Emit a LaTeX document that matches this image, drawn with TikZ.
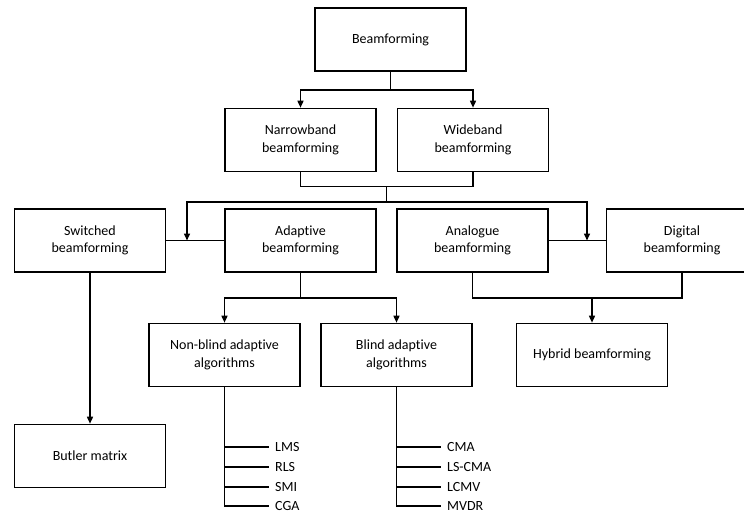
\documentclass[tikz,border=0pt]{standalone}
\usepackage{fontspec}
\setmainfont{Carlito}[Ligatures={NoCommon}]
\usetikzlibrary{arrows.meta}
\begin{document}
\begin{tikzpicture}[x=1pt,y=-1pt,
  box/.style={draw,line width=1.6pt,minimum width=151pt,minimum height=63pt,align=center,inner sep=2pt,font=\fontsize{14}{17.5}\selectfont},
  lnk/.style={line width=1.5pt},
  arr/.style={line width=1.5pt,-{Triangle[width=6pt,length=7pt]}},
  item/.style={anchor=west,inner xsep=6pt,inner ysep=0pt,font=\fontsize{14}{17}\selectfont}]
\useasboundingbox (0,0) rectangle (744,512);
\clip (0,0) rectangle (744,512);
\node[box] (bf) at (390.5,39.5) {Beamforming};
\node[box] (nb) at (300.5,140) {Narrowband\\beamforming};
\node[box] (wb) at (473,140) {Wideband\\beamforming};
\node[box] (sw) at (90,240.5) {Switched\\beamforming};
\node[box] (ad) at (300.5,240.5) {Adaptive\\beamforming};
\node[box] (an) at (472.5,240.5) {Analogue\\beamforming};
\node[box] (dg) at (682,240.5) {Digital\\beamforming};
\node[box] (nbl) at (224.5,355) {Non-blind adaptive\\algorithms};
\node[box] (bl) at (396.5,355) {Blind adaptive\\algorithms};
\node[box] (hy) at (592,355) {Hybrid beamforming};
\node[box] (bm) at (90,456) {Butler matrix};
% top split
\draw[lnk] (bf.south) -- ++(0,18) coordinate (j1);
\draw[arr] (j1) -| (nb.north);
\draw[arr] (j1) -| (wb.north);
% merge narrow/wide
\draw[lnk] (nb.south) -- ++(0,14) -| (wb.south);
\coordinate (j2) at (386.5,186);
\coordinate (j3) at (386.5,202);
\coordinate (t1) at (187,240.5);
\coordinate (t2) at (587,240.5);
\draw[lnk] (j2) -- (j3);
\draw[arr] (j3) -| (t1);
\draw[arr] (j3) -| (t2);
\draw[lnk] (sw.east) -- (ad.west);
\draw[lnk] (an.east) -- (dg.west);
% switched -> butler
\draw[arr] (sw.south) -- (bm.north);
% adaptive split
\draw[lnk] (ad.south) -- ++(0,25) coordinate (j4);
\draw[arr] (j4) -| (nbl.north);
\draw[arr] (j4) -| (bl.north);
% analogue/digital merge
\draw[lnk] (an.south) -- ++(0,25) -| (dg.south);
\coordinate (j5) at (592,297.5);
\draw[arr] (j5) -- (hy.north);
% lists
\node[item] (lms) at (269,447) {LMS};
\node[item] (rls) at (269,467) {RLS};
\node[item] (smi) at (269,487) {SMI};
\node[item] (cga) at (269,506) {CGA};
\draw[lnk] (nbl.south) |- (cga.west);
\draw[lnk] (nbl.south |- lms.west) -- (lms.west);
\draw[lnk] (nbl.south |- rls.west) -- (rls.west);
\draw[lnk] (nbl.south |- smi.west) -- (smi.west);
\node[item] (cma) at (441,447) {CMA};
\node[item] (lscma) at (441,467) {LS-CMA};
\node[item] (lcmv) at (441,487) {LCMV};
\node[item] (mvdr) at (441,506) {MVDR};
\draw[lnk] (bl.south) |- (mvdr.west);
\draw[lnk] (bl.south |- cma.west) -- (cma.west);
\draw[lnk] (bl.south |- lscma.west) -- (lscma.west);
\draw[lnk] (bl.south |- lcmv.west) -- (lcmv.west);
\end{tikzpicture}
\end{document}
